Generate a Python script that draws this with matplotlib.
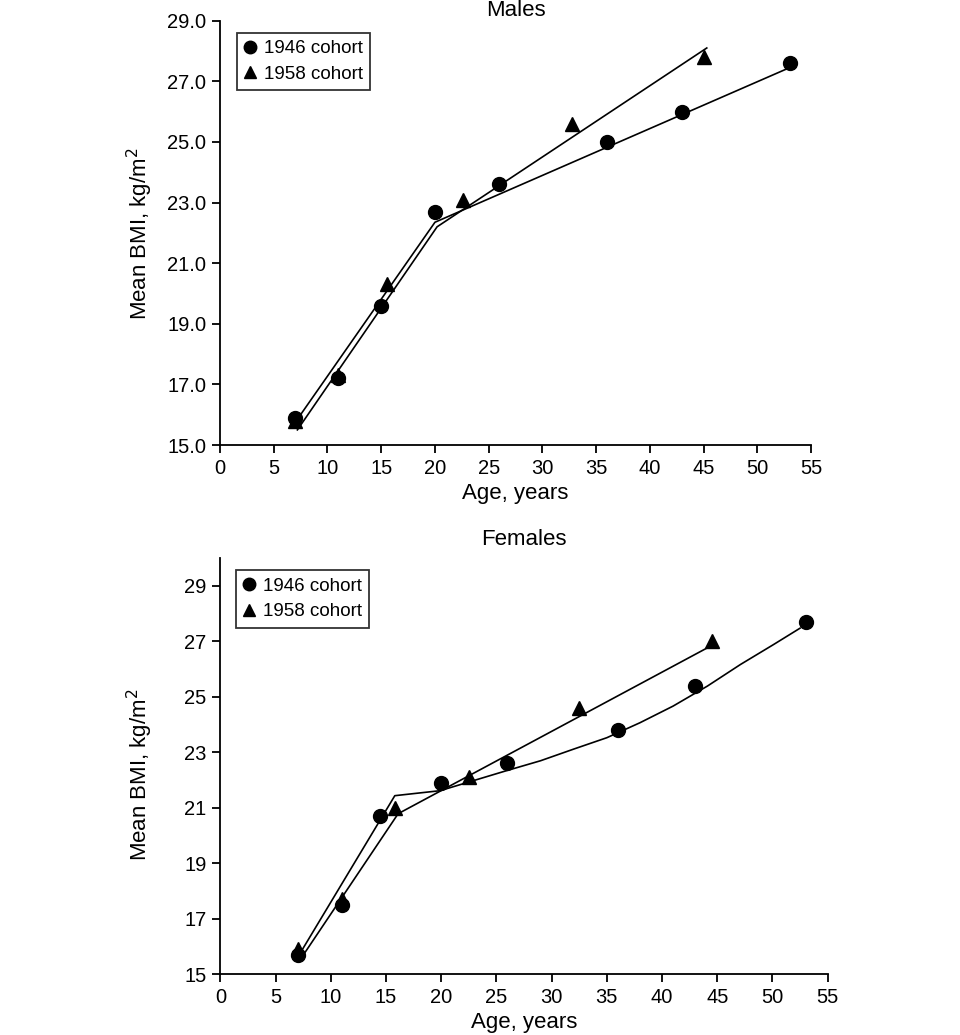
import matplotlib
matplotlib.use("Agg")
import matplotlib.pyplot as plt
from matplotlib.lines import Line2D

plt.rcParams['font.family'] = ['Liberation Sans', 'DejaVu Sans']

# ---- Males data ----
m46_age = [7, 11, 15, 20, 26, 36, 43, 53]
m46_bmi = [15.9, 17.2, 19.6, 22.7, 23.6, 25.0, 26.0, 27.6]
m58_age = [7, 11, 15.5, 22.6, 32.8, 45.0]
m58_bmi = [15.8, 17.3, 20.3, 23.1, 25.6, 27.8]
# fitted lines
m46_fit_x = [7, 20, 53]
m46_fit_y = [15.75, 22.35, 27.45]
m58_fit_x = [7.2, 20.2, 45.3]
m58_fit_y = [15.5, 22.2, 28.1]

# ---- Females data ----
f46_age = [7, 11, 14.5, 20, 26, 36, 43, 53]
f46_bmi = [15.7, 17.5, 20.7, 21.9, 22.6, 23.8, 25.4, 27.7]
f58_age = [7, 11, 15.8, 22.5, 32.5, 44.5]
f58_bmi = [15.9, 17.7, 21.0, 22.1, 24.6, 27.0]
f46_fit_x = [7, 15.8, 19.9, 22.9, 25.9, 29.0, 32.0, 35.0, 38.0, 41.0, 44.1, 47.1, 50.1, 52.5]
f46_fit_y = [15.6, 21.43, 21.61, 21.97, 22.33, 22.69, 23.11, 23.52, 24.06, 24.66, 25.38, 26.16, 26.88, 27.47]
f58_fit_x = [7.2, 16.1, 44.1]
f58_fit_y = [15.5, 20.78, 26.76]

xticks = [0, 5, 10, 15, 20, 25, 30, 35, 40, 45, 50, 55]
m_yticks = [15, 17, 19, 21, 23, 25, 27, 29]
f_yticks = [15, 17, 19, 21, 23, 25, 27, 29]

fig = plt.figure(figsize=(9.6, 10.35), dpi=100, facecolor='white')
ax1 = fig.add_axes([0.2292, 0.570, 0.8448 - 0.2292, 0.410])
ax2 = fig.add_axes([0.2295, 0.0589, 0.8622 - 0.2295, 0.402])

def style(ax, yticks, ylim, fmt, title, pad, ylab_xy, leg_anchor):
    ax.set_facecolor('none')
    for s in ['top', 'right']:
        ax.spines[s].set_visible(False)
    for s in ['left', 'bottom']:
        ax.spines[s].set_linewidth(1.3)
        ax.spines[s].set_color('black')
    ax.set_xlim(0, 55)
    ax.set_ylim(*ylim)
    ax.set_xticks(xticks)
    ax.set_yticks(yticks)
    ax.set_yticklabels([fmt.format(v) for v in yticks])
    ax.tick_params(direction='out', length=6, width=1.3, labelsize=14.5, colors='black', pad=4)
    ax.set_xlabel('Age, years', fontsize=16, labelpad=4)
    ax.set_ylabel('Mean BMI, kg/m$^2$', fontsize=16)
    ax.yaxis.set_label_coords(*ylab_xy)
    ax.set_title(title, fontsize=16, pad=pad)
    handles = [Line2D([], [], marker='o', color='black', ls='none', markersize=9),
               Line2D([], [], marker='^', color='black', ls='none', markersize=9)]
    leg = ax.legend(handles, ['1946 cohort', '1958 cohort'], loc='upper left',
                    bbox_to_anchor=leg_anchor, fontsize=13.5, frameon=True, fancybox=False,
                    handlelength=0.6, handletextpad=0.45, borderpad=0.4, labelspacing=0.45,
                    borderaxespad=0)
    leg.get_frame().set_edgecolor('black')
    leg.get_frame().set_linewidth(1.3)

# Males
ax1.plot(m46_fit_x, m46_fit_y, color='black', lw=1.2)
ax1.plot(m58_fit_x, m58_fit_y, color='black', lw=1.2)
ax1.plot(m46_age, m46_bmi, 'o', color='black', markersize=10, clip_on=False)
ax1.plot(m58_age, m58_bmi, '^', color='black', markersize=10, clip_on=False)
style(ax1, m_yticks, (15, 29), '{:.1f}', 'Males', 1, (-0.110, 0.498), (0.028, 0.972))

# Females
ax2.plot(f46_fit_x, f46_fit_y, color='black', lw=1.2)
ax2.plot(f58_fit_x, f58_fit_y, color='black', lw=1.2)
ax2.plot(f46_age, f46_bmi, 'o', color='black', markersize=10, clip_on=False)
ax2.plot(f58_age, f58_bmi, '^', color='black', markersize=10, clip_on=False)
style(ax2, f_yticks, (15, 30), '{:.0f}', 'Females', 9, (-0.1075, 0.478), (0.025, 0.971))

fig.savefig('out.png', dpi=100, facecolor='white')
